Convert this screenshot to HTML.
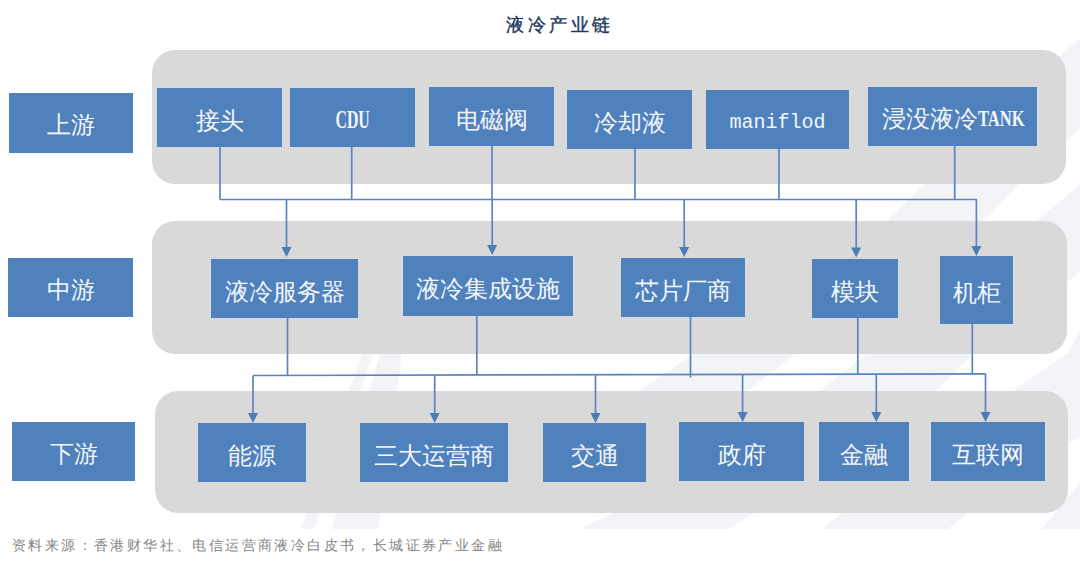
<!DOCTYPE html>
<html><head><meta charset="utf-8">
<style>
html,body{margin:0;padding:0;background:#fff;}
body{width:1080px;height:562px;position:relative;overflow:hidden;font-family:"Liberation Serif",serif;}
.p{position:absolute;background:#d9d9d9;border-radius:23px;}
.b{position:absolute;box-sizing:border-box;padding-top:6px;background:#4f81bd;color:#f4f6fa;display:flex;align-items:center;justify-content:center;font-size:23.7px;white-space:nowrap;}
.t{position:absolute;white-space:nowrap;}
svg{position:absolute;left:0;top:0;}
</style></head><body>
<div class="t" style="left:506px;top:12.5px;font-size:18px;letter-spacing:3.5px;-webkit-text-stroke:0.4px #1f3a60;color:#1f3a60;">液冷产业链</div>

<div class="b" style="left:9px;top:93px;width:124px;height:60px;padding-top:4px;">上游</div>
<div class="b" style="left:8px;top:258px;width:125px;height:59px;padding-top:4px;">中游</div>
<div class="b" style="left:12px;top:422px;width:123px;height:59px;padding-top:4px;">下游</div>

<svg width="1080" height="562" viewBox="0 0 1080 562"><g fill="#f3f4f8">
<path d="M1080 38L1080 128L1020 184L982 221L796 353L748 391L639 391L695 353L886 221L925 184L1061 55Z"/>
<path d="M1080 185L1080 272L974 353L936 391L753 514L728 529L580 529L610 514L820 391L868 353L1036 221Z"/>
<path d="M1080 330L1080 436L967 514L948 529L822 529L841 514L1013 391L1068 353Z"/>
<path d="M1080 482L1080 529L1042 529Z"/>
<path d="M362 353L373 353L314 529L301 529Z"/>
<path d="M380 353L402 353L378 529L332 529Z"/>
</g></svg>
<div class="p" style="left:152px;top:50px;width:914px;height:134px;"></div>
<div class="p" style="left:152px;top:221px;width:915px;height:133px;"></div>
<div class="p" style="left:155px;top:391px;width:913px;height:122px;"></div>

<div class="b" style="left:157px;top:88px;width:125px;height:59px;">接头</div>
<div class="b" style="left:290px;top:88px;width:125px;height:59px;"><span style="display:inline-block;font-size:25.5px;font-weight:bold;transform:scaleX(0.62);position:relative;top:-1px;">CDU</span></div>
<div class="b" style="left:429px;top:87px;width:125px;height:59px;">电磁阀</div>
<div class="b" style="left:567px;top:90px;width:125px;height:59px;">冷却液</div>
<div class="b" style="left:706px;top:90px;width:143px;height:59px;font-family:'Liberation Mono',monospace;font-size:20px;">maniflod</div>
<div class="b" style="left:868px;top:87px;width:169px;height:59px;padding-top:4px;"><span>浸没液冷</span><span style="display:inline-block;width:46px;"><span style="display:inline-block;font-weight:bold;transform:scaleX(0.7);transform-origin:0 50%;position:relative;top:-0.5px;">TANK</span></span></div>

<div class="b" style="left:211px;top:259px;width:147px;height:59px;">液冷服务器</div>
<div class="b" style="left:403px;top:256px;width:170px;height:60px;">液冷集成设施</div>
<div class="b" style="left:621px;top:258px;width:124px;height:59px;">芯片厂商</div>
<div class="b" style="left:812px;top:259px;width:86px;height:59px;">模块</div>
<div class="b" style="left:940px;top:256px;width:73px;height:68px;">机柜</div>

<div class="b" style="left:198px;top:423px;width:108px;height:59px;">能源</div>
<div class="b" style="left:360px;top:423px;width:148px;height:59px;">三大运营商</div>
<div class="b" style="left:543px;top:423px;width:103px;height:59px;">交通</div>
<div class="b" style="left:679px;top:422px;width:125px;height:59px;">政府</div>
<div class="b" style="left:819px;top:422px;width:90px;height:59px;">金融</div>
<div class="b" style="left:931px;top:422px;width:114px;height:59px;">互联网</div>

<svg width="1080" height="562" viewBox="0 0 1080 562">
<g stroke="#5886c0" stroke-width="1.7" fill="none">
<path d="M220 147V199.5M351.7 147V199.5M492 146V199.5M635 149V199.5M779 149V199.5M954.7 146V199.5M220 199.5H977"/>
<path d="M286.5 199.5V250M492.2 199.5V249M684.2 199.5V250M856.2 199.5V251M976.4 199.5V250"/>
<path d="M287.5 318V375.3M476.8 316V375M690.5 317V377.5M857.8 318V374.3M972.3 324V374M253 375.5L985.5 373.8"/>
<path d="M253 375.5V416M434.7 375.1V416M595.5 374.7V416M742.6 374.4V415M876.3 374.1V415M985.5 373.8V415"/>
</g>
<g fill="#4a7ebb">
<path d="M281.5 247L291.5 247L286.5 257Z"/>
<path d="M487.2 245L497.2 245L492.2 255Z"/>
<path d="M679.2 247L689.2 247L684.2 257Z"/>
<path d="M851.2 247.5L861.2 247.5L856.2 257.5Z"/>
<path d="M971.4 246L981.4 246L976.4 256Z"/>
<path d="M248 413L258 413L253 423Z"/>
<path d="M429.7 413L439.7 413L434.7 423Z"/>
<path d="M590.5 413L600.5 413L595.5 423Z"/>
<path d="M737.6 412L747.6 412L742.6 422Z"/>
<path d="M871.3 412L881.3 412L876.3 422Z"/>
<path d="M980.5 412L990.5 412L985.5 422Z"/>
</g>
</svg>

<div class="t" style="left:12px;top:536.5px;font-size:14px;letter-spacing:2.4px;color:#858585;">资料来源：香港财华社、电信运营商液冷白皮书，长城证券产业金融</div>
</body></html>
